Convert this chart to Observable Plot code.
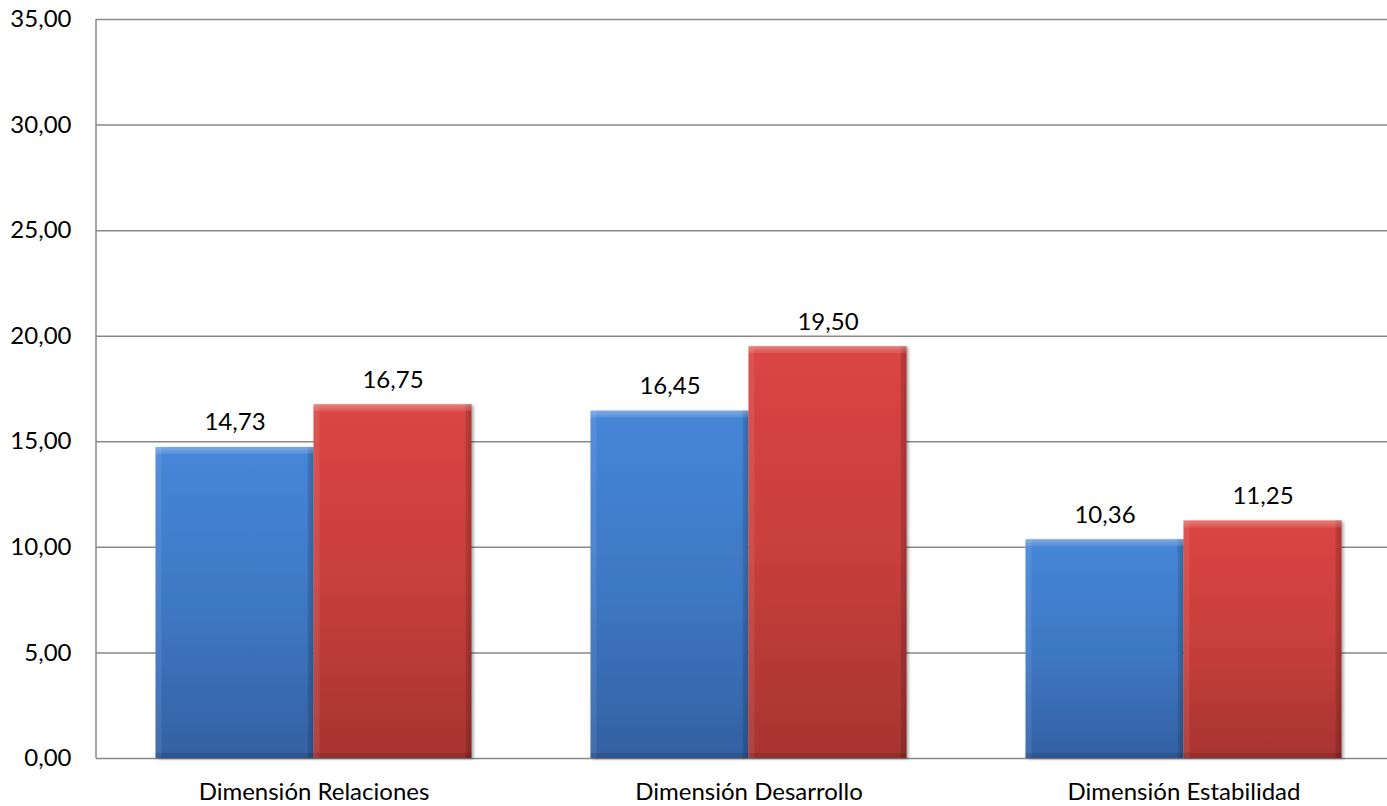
<!DOCTYPE html>
<html>
<head>
<meta charset="utf-8">
<script src="https://cdn.jsdelivr.net/npm/d3@7"></script>
<script src="https://cdn.jsdelivr.net/npm/@observablehq/plot@0.6"></script>
<style>
  html, body { margin: 0; padding: 0; background: #fff; }
  #chart svg { display: block; }
</style>
</head>
<body>
<div id="chart"></div>
<script>
// ---- Data ----
const categories = ["Dimensión Relaciones", "Dimensión Desarrollo", "Dimensión Estabilidad"];
const seriesNames = ["Serie 1", "Serie 2"];
const serie1Values = [14.73, 16.45, 10.36];
const serie2Values = [16.75, 19.50, 11.25];
const yTicks = [0, 5, 10, 15, 20, 25, 30, 35];

const data = categories.flatMap((c, i) => [
  {category: c, series: seriesNames[0], value: serie1Values[i]},
  {category: c, series: seriesNames[1], value: serie2Values[i]}
]);

// ---- Layout ----
const W = 1387, H = 806;
const xRange = [96, 1401];
const band = (xRange[1] - xRange[0]) / categories.length; // width of each category band
const outer = band * 0.1368;  // half of the gap between groups
const half = band / 2;
const fmt = d => d.toFixed(2).replace(".", ",");
const fontSize = 24;

const ids = ["gradBlue", "gradRed"];
function insets(k) {
  return k === 0 ? {insetLeft: outer, insetRight: half} : {insetLeft: half, insetRight: outer};
}
const labelDx = (outer + half) / 2 - half;

function defsMark(index, scales, values, dimensions) {
  const g = d3.create("svg:g");
  const defs = g.append("defs");
  const addGrad = (id, vertical, stops) => {
    const lg = defs.append("linearGradient").attr("id", id)
      .attr("x1", 0).attr("y1", 0).attr("x2", vertical ? 0 : 1).attr("y2", vertical ? 1 : 0);
    stops.forEach(([o, c, op]) => lg.append("stop").attr("offset", o).attr("stop-color", c).attr("stop-opacity", op ?? 1));
  };
  addGrad("gradBlue", true, [[0, "#4686d8"], [0.5, "#3e78c4"], [1, "#3461a3"]]);
  addGrad("gradRed", true, [[0, "#da4543"], [0.5, "#c83f3c"], [1, "#a73431"]]);
  addGrad("sideShade", false, [
    [0, "#ffffff", 0.08], [0.035, "#ffffff", 0.08], [0.04, "#ffffff", 0],
    [0.96, "#000000", 0], [0.965, "#000000", 0.12], [1, "#000000", 0.22]
  ]);
  addGrad("topHi", true, [[0, "#ffffff", 0.30], [1, "#ffffff", 0.08]]);
  const f = defs.append("filter").attr("id", "shadow")
    .attr("x", "-5%").attr("y", "-5%").attr("width", "115%").attr("height", "110%");
  f.append("feDropShadow").attr("dx", 2).attr("dy", 1).attr("stdDeviation", 1.8)
    .attr("flood-color", "#000").attr("flood-opacity", 0.35);
  // left axis line of the plot area
  g.append("line")
    .attr("x1", dimensions.marginLeft).attr("x2", dimensions.marginLeft)
    .attr("y1", scales.y(35)).attr("y2", scales.y(0))
    .attr("stroke", "#898989").attr("stroke-width", 1.5);
  return g.node();
}

const marks = [
  Plot.ruleY(yTicks, {y: d => d, stroke: "#898989", strokeWidth: 1.5})
];

seriesNames.forEach((s, k) => {
  const subset = data.filter(d => d.series === s);
  marks.push(
    Plot.barY(subset, {x: "category", y: "value", fill: `url(#${ids[k]})`, ...insets(k)}),
    Plot.barY(subset, {x: "category", y: "value", fill: "url(#sideShade)", ...insets(k)}),
    Plot.barY(subset, {x: "category", y1: "value", y2: "value", insetBottom: -7, fill: "url(#topHi)", ...insets(k)}),
    Plot.barY(subset, {x: "category", y1: () => 0, y2: () => 0, insetTop: -5, fill: "#000000", fillOpacity: 0.12, ...insets(k)}),
    Plot.text(subset, {x: "category", y: "value", text: d => fmt(d.value), dx: k === 0 ? labelDx : -labelDx,
      dy: -17, lineAnchor: "bottom", fill: "#000", fontSize})
  );
});

marks.push(
  Plot.axisY(yTicks, {tickSize: 0, tickPadding: 25, tickFormat: fmt, fontSize, fill: "#000", label: null}),
  Plot.axisX({tickSize: 0, tickPadding: 24, fontSize, fill: "#000", label: null}),
  defsMark
);

const chart = Plot.plot({
  width: W,
  height: H,
  marginLeft: xRange[0],
  marginRight: 0,
  marginTop: 19,
  marginBottom: 48,
  style: {fontFamily: "Lato, 'Open Sans', sans-serif", fontSize: fontSize + "px", color: "#000", background: "#fff"},
  x: {domain: categories, range: xRange, padding: 0, label: null},
  y: {domain: [0, 35], label: null},
  marks
});

// drop shadow on the base bars
d3.select(chart).selectAll("g").filter(function() {
  const f = this.getAttribute("fill") || "";
  return f.startsWith("url(#grad");
}).attr("filter", "url(#shadow)");

document.getElementById("chart").appendChild(chart);
</script>
</body>
</html>
